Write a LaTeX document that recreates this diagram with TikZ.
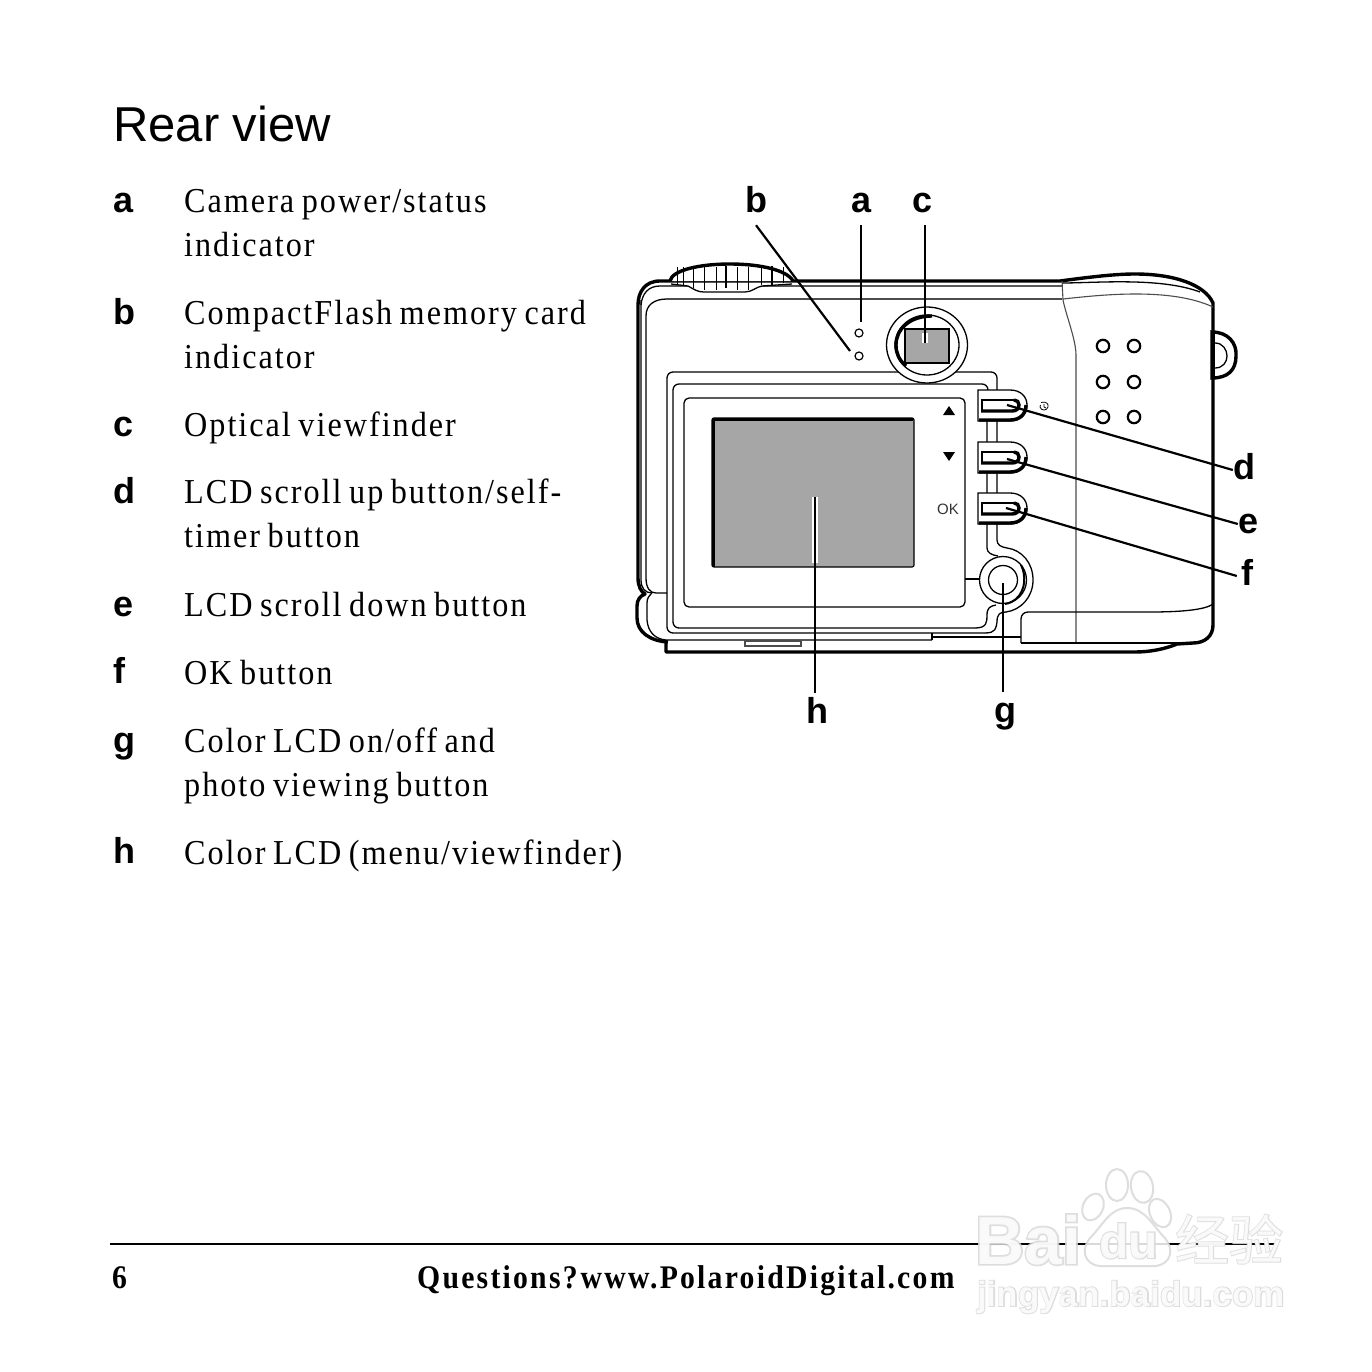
\documentclass[tikz,border=0pt]{standalone}
\usepackage{fontspec}
\setmainfont{Liberation Serif}
\newfontfamily\bodyfont[LetterSpace=5.7,FakeStretch=0.92,WordSpace=0.75]{Liberation Serif}
\newfontfamily\footfont[LetterSpace=6.8,FakeStretch=0.9]{Liberation Serif Bold}
\newfontfamily\sansfont{Liberation Sans}
\newfontfamily\sansbold{Liberation Sans Bold}
\newfontfamily\wmout[FakeBold=5]{Liberation Sans Bold}
\newfontfamily\wmcjkout[FakeBold=3]{Noto Sans CJK SC}
\newfontfamily\wmcjk{Noto Sans CJK SC}
\definecolor{lcdgray}{HTML}{A6A6A6}
\definecolor{wmline}{HTML}{D9D9D9}
\tikzset{
  thick line/.style={line width=3.4pt},
  thin line/.style={line width=1.3pt},
  hair line/.style={line width=1.1pt,draw=black!70},
  leader/.style={line width=2.2pt},
  halo/.style={line width=6.5pt,draw=white,line cap=square},
  itemlabel/.style={anchor=base west,inner sep=0pt,font=\sansbold\fontsize{36}{36}\selectfont},
  itemtext/.style={anchor=base west,inner sep=0pt,font=\bodyfont\fontsize{35}{35}\selectfont},
  callout/.style={anchor=base,inner sep=0pt,minimum width=20pt,text height=30pt,text depth=12pt,font=\sansbold\fontsize{36}{36}\selectfont},
  hole/.style={line width=2.2pt,draw=black,fill=white},
  wmo/.style={inner sep=0pt,anchor=base west,text=wmline},
  wmi/.style={inner sep=0pt,anchor=base west,text=white},
}
\newcommand{\cambutton}[1]{%
  \begin{scope}[shift={(0,#1)}]
    \draw[thin line,fill=white] (978,390) -- (1010,390) .. controls (1021,390) and (1027,397) .. (1027,405) .. controls (1027,414) and (1021,421) .. (1010,421) -- (978,421) -- cycle;
    \draw[thick line] (979,420) -- (1010,420) .. controls (1020,420) and (1026,414) .. (1026,405);
    \draw[thin line] (1014,400) -- (982,400) -- (982,411);
    \draw[thick line] (981,411) -- (1012,411) .. controls (1016,411) and (1019,409) .. (1019,405) .. controls (1019,402) and (1017,400) .. (1014,400);
  \end{scope}}
\begin{document}
\begin{tikzpicture}[x=1pt,y=-1pt]
\useasboundingbox (0,0) rectangle (1372,1372);
\fill[white] (0,0) rectangle (1372,1372);

% ---- left column
\node[anchor=base west,inner sep=0pt,font=\sansfont\fontsize{49}{49}\selectfont] (title) at (113,142) {Rear view};
\node[itemlabel] (ia) at (113,213) {a};
\node[itemtext] (ta1) at (184,213) {Camera power/status};
\node[itemtext] (ta2) at (184,257) {indicator};
\node[itemlabel] (ib) at (113,324) {b};
\node[itemtext] (tb1) at (184,324) {CompactFlash memory card};
\node[itemtext] (tb2) at (184,368) {indicator};
\node[itemlabel] (ic) at (113,436) {c};
\node[itemtext] (tc1) at (184,436) {Optical viewfinder};
\node[itemlabel] (id) at (113,503) {d};
\node[itemtext] (td1) at (184,503) {LCD scroll up button/self-};
\node[itemtext] (td2) at (184,547) {timer button};
\node[itemlabel] (ie) at (113,616) {e};
\node[itemtext] (te1) at (184,616) {LCD scroll down button};
\node[itemlabel] (if) at (113,683) {f};
\node[itemtext] (tf1) at (184,684) {OK button};
\node[itemlabel] (ig) at (113,752) {g};
\node[itemtext] (tg1) at (184,752) {Color LCD on/off and};
\node[itemtext] (tg2) at (184,796) {photo viewing button};
\node[itemlabel] (ih) at (113,863) {h};
\node[itemtext] (th1) at (184,864) {Color LCD (menu/viewfinder)};

% ---- camera body
\draw[thick line,line join=round] (672,281) -- (1060,281) .. controls (1090,277) and (1115,274) .. (1135,274) .. controls (1175,274) and (1205,285) .. (1213,303) -- (1213,625) .. controls (1213,636) and (1205,643) .. (1193,643) -- (1177,644) .. controls (1165,649) and (1150,652) .. (1135,652) -- (666,652) -- (666,642);
\draw[thick line,line join=round] (672,281) -- (660,281) .. controls (645,281) and (638,292) .. (638,305) -- (638,578) .. controls (638,586) and (641,592) .. (645,594) .. controls (640,596) and (637,600) .. (637,606) -- (637,618) .. controls (637,632) and (650,641) .. (668,642);
\draw[thin line] (641,305) .. controls (642,294) and (648,286) .. (660,286) -- (1062,286);
\draw[thin line] (641,300) -- (641,580) .. controls (641,588) and (645,593) .. (652,593);
\draw[hair line] (1062,299) -- (667,299);
\draw[thin line] (667,299) .. controls (654,299) and (646,305) .. (646,316) -- (646,578) .. controls (646,588) and (650,593) .. (656,593) -- (667,593);
\draw[thin line] (652,593) .. controls (649,596) and (647,598) .. (647,603) -- (647,620) .. controls (648,632) and (655,639) .. (666,640) -- (932,640);
\draw[thin line] (932,640) -- (932,633);
\draw[thin line] (932,637) -- (1021,637);
\draw[hair line,fill=white] (745,641) rectangle (801,646);

% top-right grip
\draw[thin line] (1062,283) .. controls (1095,283) and (1160,277) .. (1200,292);
\draw[hair line] (1063,299) .. controls (1100,295) and (1170,287) .. (1213,307);
\draw[hair line] (1062,281) -- (1063,300) .. controls (1066,315) and (1076,340) .. (1076,355) -- (1076,643);
% bottom-right panel
\draw[thin line] (1021,643) -- (1021,619) .. controls (1021,615) and (1024,612) .. (1028,612) -- (1150,612) .. controls (1180,612) and (1205,610) .. (1213,604);
\draw[thin line] (1021,643) -- (1193,643);

% strap lug
\draw[thick line,fill=white] (1212,332) .. controls (1228,332) and (1237,343) .. (1236,356) .. controls (1236,370) and (1228,378) .. (1212,378) -- cycle;
\draw[thin line] (1215,343) .. controls (1223,343) and (1227,350) .. (1227,356) .. controls (1227,362) and (1223,368) .. (1215,368);
\draw[thick line] (1213,331) -- (1213,379);

% speaker holes
\foreach \hx/\hy/\hn in {1103/346/1,1134/346/2,1103/382/3,1134/382/4,1103/417/5,1134/417/6}
  \draw[hole] (\hx,\hy) circle [radius=6.2];

% dial
\draw[thick line,fill=white,line join=round] (670,281) .. controls (672,270) and (700,264) .. (730,264) .. controls (760,264) and (787,270) .. (793,281);
\draw[thin line,fill=white] (671,284) -- (688,286) .. controls (695,290) and (698,292) .. (704,292) -- (745,292) .. controls (752,292) and (756,287) .. (762,286) -- (792,284);
\foreach \rx/\ry in {677/284,683/285,693/288,704/290,716/290,737/290,748/290,761/285,783/283}
  \draw[line width=.9pt] (\rx,267) -- (\rx,\ry);
\foreach \rx/\ry in {726/288,772/286}
  \draw[line width=1.8pt] (\rx,266) -- (\rx,\ry);

% bezel
\draw[thin line,rounded corners=6pt] (997,392) -- (997,372) -- (667,372) -- (667,633) -- (985,633);
\draw[thin line] (985,633) .. controls (996,633) and (996,628) .. (997,622) .. controls (997,614) and (1000,612) .. (1006,612);
\draw[thin line,rounded corners=6pt] (988,392) -- (988,384) -- (673,384) -- (673,628) -- (975,628);
\draw[thin line] (975,628) .. controls (987,628) and (987,622) .. (987,615) .. controls (987,608) and (990,606) .. (996,605);
\draw[thin line,rounded corners=5pt] (684,607) -- (684,398) -- (965,398) -- (965,607) -- cycle;
\draw[thin line] (987,420) -- (987,548) .. controls (987,553) and (992,555) .. (998,556);
\draw[thin line] (997,420) -- (997,540) .. controls (997,545) and (1001,547) .. (1007,548) .. controls (1022,550) and (1033,563) .. (1033,580) .. controls (1033,597) and (1021,610) .. (1006,612);
\draw[thin line] (965,579) -- (980,579);

% buttons
\cambutton{0}
\cambutton{52}
\cambutton{103}

% power button
\draw[thin line,fill=white] (1003,580) circle [radius=23.5];
\draw[line width=2pt] (1021,565) .. controls (1026,575) and (1026,590) .. (1016,599) .. controls (1012,602) and (1010,603) .. (1005,604);
\draw[thin line] (1003,580) circle [radius=14.5];

% icons and marks
\fill (949,406) -- (955,415) -- (943,415) -- cycle;
\fill (943,452) -- (955,452) -- (949,461) -- cycle;
\node[inner sep=0pt,text=black!80,font=\sansfont\fontsize{15}{15}\selectfont] (oklabel) at (948,509) {OK};
\draw[line width=.8pt] (1041,402.5) .. controls (1046,401) and (1049,404) .. (1048,407) .. controls (1047,411) and (1041,411) .. (1040,407) -- (1040.5,405);
\draw[line width=.8pt] (1044,404) -- (1044,407) -- (1046,408);

% LCD
\fill[lcdgray,rounded corners=2pt] (712,418) rectangle (914,567);
\draw[line width=1.2pt,rounded corners=2pt] (712,418) rectangle (914,567);
\draw[line width=3pt] (713,567) -- (713,419) -- (913,419);

% eyepiece
\draw[thin line,fill=white] (927,345) ellipse [x radius=40.5,y radius=38];
\draw[thin line] (927,345) ellipse [x radius=32,y radius=30];
\draw[line width=3.4pt] (906,366) .. controls (899,360) and (896,353) .. (896,345) .. controls (896,329) and (910,316) .. (932,316);
\draw[thin line,fill=lcdgray] (905,329) rectangle (949,363);

% indicators
\draw[line width=1.2pt,fill=white] (859,333) circle [radius=4];
\draw[line width=1.2pt,fill=white] (859,356) circle [radius=4];

% callout labels
\node[callout] (lb) at (756,213) {b};
\node[callout] (la) at (861,213) {a};
\node[callout] (lc) at (922,213) {c};
\node[callout] (ld) at (1244,479) {d};
\node[callout] (le) at (1248,533) {e};
\node[callout] (lf) at (1247,585) {f};
\node[callout] (lh) at (817,723) {h};
\node[callout] (lg) at (1005,722) {g};
\coordinate (pa) at (861,322);
\coordinate (pb) at (850,351);
\coordinate (pc) at (925,343);
\coordinate (pd) at (1007,405);
\coordinate (pe) at (1007,459);
\coordinate (pf) at (1006,508);
\coordinate (pg) at (1003,583);
\coordinate (ph) at (815,497);

\draw[halo] (925,333) -- (pc);
\draw[halo] (815,563) -- (ph);
\draw[leader] (lb.south) -- (pb);
\draw[leader] (la.south -| pa) -- (pa);
\draw[leader] (lc.south -| pc) -- (pc);
\draw[leader] (ld.west) -- (pd);
\draw[leader] (le.west) -- (pe);
\draw[leader] (lf.west) -- (pf);
\draw[leader] (lg.north -| pg) -- (pg);
\draw[leader] (lh.north -| ph) -- (ph);

% ---- footer
\coordinate (ruleL) at (110,1244);
\coordinate (ruleR) at (1275,1244);
\draw[line width=1.8pt] (ruleL) -- (ruleR);
\node[anchor=base west,inner sep=0pt,font=\footfont\fontsize{33}{33}\selectfont] (pageno) at (112,1288) {6};
\node[anchor=base west,inner sep=0pt,font=\footfont\fontsize{33}{33}\selectfont] (footer) at (417,1288) {Questions?\hspace{3pt}www.PolaroidDigital.com};

% ---- watermark
\begin{scope}[opacity=.85]
\foreach \ex/\ey/\erx/\ery/\eang in {1117/1185/11/16/0,1142/1187/11/16/10,1093/1207/10/14/-25,1160/1213/10/15/25}
  \draw[wmline,line width=2pt,fill=white,rotate around={\eang:(\ex,\ey)}] (\ex,\ey) ellipse [x radius=\erx,y radius=\ery];
\draw[wmline,line width=2pt,fill=white] (1127,1208) .. controls (1145,1208) and (1152,1225) .. (1165,1238) .. controls (1178,1255) and (1165,1268) .. (1150,1266) -- (1105,1266) .. controls (1090,1268) and (1077,1255) .. (1090,1238) .. controls (1103,1225) and (1110,1208) .. (1127,1208) -- cycle;
\node[wmo,font=\wmout\fontsize{68}{68}\selectfont] (wm1a) at (975,1264) {Bai};
\node[wmi,font=\sansbold\fontsize{68}{68}\selectfont] (wm1b) at (975,1264) {Bai};
\node[wmo,font=\wmout\fontsize{48}{48}\selectfont] (wm2a) at (1099,1258) {du};
\node[wmi,font=\sansbold\fontsize{48}{48}\selectfont] (wm2b) at (1099,1258) {du};
\node[wmo,font=\wmcjkout\fontsize{54}{54}\selectfont] (wm3a) at (1175,1260) {经验};
\node[wmi,font=\wmcjk\fontsize{54}{54}\selectfont] (wm3b) at (1175,1260) {经验};
\node[wmo,font=\wmout\fontsize{35}{35}\selectfont] (wm4a) at (977,1306) {jingyan.baidu.com};
\node[wmi,font=\sansbold\fontsize{35}{35}\selectfont] (wm4b) at (977,1306) {jingyan.baidu.com};
\end{scope}
\end{tikzpicture}
\end{document}
